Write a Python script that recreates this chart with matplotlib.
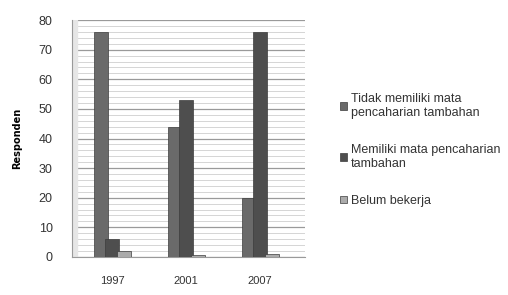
import matplotlib
matplotlib.use("Agg")
import matplotlib.pyplot as plt
import numpy as np

years = ["1997", "2001", "2007"]
tidak_memiliki = [76, 44, 20]
memiliki = [6, 53, 76]
belum_bekerja = [2, 0.5, 1]
series_names = ["Tidak memiliki mata\npencaharian tambahan",
                "Memiliki mata pencaharian\ntambahan",
                "Belum bekerja"]
yticks = [0, 10, 20, 30, 40, 50, 60, 70, 80]

plt.rcParams['font.family'] = ['Liberation Sans', 'DejaVu Sans']

fig = plt.figure(figsize=(5.08, 2.95), dpi=100)
ax = fig.add_axes([0.142, 0.129, 0.458, 0.803])

x = np.arange(len(years))
w = 0.19
colors = ["#6a6a6a", "#4e4e4e", "#ababab"]
offsets = [-0.15, 0.0, 0.16]
data = [tidak_memiliki, memiliki, belum_bekerja]

# gridlines (fine every 2, stronger every 10)
for v in np.arange(0, 81, 2):
    major = (v % 10 == 0)
    ax.axhline(v, color="#9a9a9a" if major else "#cfcfcf",
               lw=0.9 if major else 0.6, zorder=0)

for i in range(3):
    ax.bar(x + offsets[i], data[i], width=w, color=colors[i],
           edgecolor="#3c3c3c", linewidth=0.5, zorder=3 + i,
           label=series_names[i])

ax.set_xlim(-0.54, 2.61)
ax.set_ylim(0, 80)
ax.set_yticks(yticks)
ax.set_xticks(x)
ax.set_xticklabels(years)
ax.tick_params(axis='y', length=0, pad=14, labelsize=9, colors="#333333")
ax.tick_params(axis='x', length=0, pad=14, labelsize=8, colors="#333333")
for s in ["top", "right"]:
    ax.spines[s].set_visible(False)
ax.spines["left"].set_color("#9a9a9a")
ax.spines["bottom"].set_color("#9a9a9a")
ax.axvspan(-0.54, -0.47, color="#e6e6e6", zorder=0.5)

ax.set_ylabel("Responden", fontsize=7, fontweight="bold", labelpad=12,
              family=["DejaVu Sans"])

leg = fig.legend(loc="upper left", bbox_to_anchor=(0.648, 0.722),
                 frameon=False, fontsize=9, handlelength=0.55,
                 handleheight=0.55, handletextpad=0.3, labelspacing=2.0)
for t in leg.get_texts():
    t.set_color("#333333")

fig.savefig("out.png", dpi=100)
